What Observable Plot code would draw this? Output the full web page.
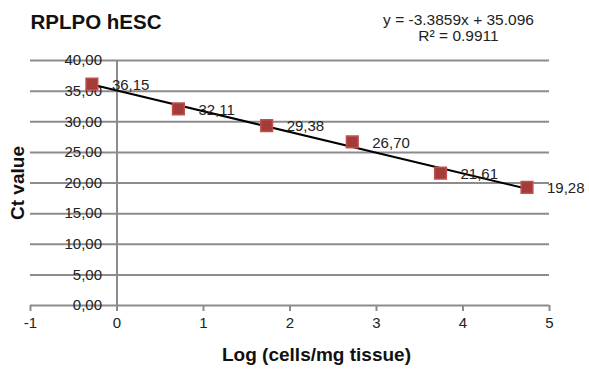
<!DOCTYPE html>
<html>
<head>
<meta charset="utf-8">
<script src="https://cdn.jsdelivr.net/npm/d3@7"></script>
<script src="https://cdn.jsdelivr.net/npm/@observablehq/plot@0.6"></script>
<style>
  html, body { margin: 0; padding: 0; background: #fff; }
  #chart { width: 589px; height: 376px; }
</style>
</head>
<body>
<div id="chart"></div>
<script>
const logCells = [-0.29, 0.71, 1.73, 2.72, 3.74, 4.74];
const ctValues = [36.15, 32.11, 29.38, 26.70, 21.61, 19.28];
const yTicks = [0, 5, 10, 15, 20, 25, 30, 35, 40];
const xTicks = [-1, 0, 1, 2, 3, 4, 5];
const slope = -3.3859;
const intercept = 35.096;
const rSquared = 0.9911;
const titleText = "RPLPO hESC";
const xLabel = "Log (cells/mg tissue)";
const yLabel = "Ct value";

const points = logCells.map((x, i) => ({x, y: ctValues[i]}));
const xMin = d3.min(logCells), xMax = d3.max(logCells);
const trend = [xMin, xMax].map(x => ({x, y: slope * x + intercept}));
const fmt = v => v.toFixed(2).replace(".", ",");
const eq1 = `y = ${slope}x + ${intercept.toFixed(3)}`;
const eq2 = `R² = ${rSquared}`;

const font = "Liberation Sans, Arial, sans-serif";
const grid = "#8c8c8c";

const chart = Plot.plot({
  width: 589,
  height: 376,
  marginLeft: 30,
  marginRight: 40,
  marginTop: 60,
  marginBottom: 71,
  style: {fontFamily: font, background: "#fff", color: "#222"},
  x: {domain: [-1, 5], axis: null},
  y: {domain: [0, 40], axis: null},
  marks: [
    Plot.ruleY(yTicks, {y: d => d, stroke: grid, strokeWidth: 2}),
    Plot.ruleX([0], {x: d => d, stroke: grid, strokeWidth: 2}),
    Plot.ruleX(xTicks, {x: d => d, y1: 0, y2: 0, insetBottom: -6, stroke: grid, strokeWidth: 2}),
    Plot.text(yTicks, {x: 0, y: d => d, text: d => fmt(d), textAnchor: "end", lineAnchor: "middle", dx: -15, fontSize: 15, fill: "#222"}),
    Plot.text(xTicks, {x: d => d, y: 0, text: d => String(d), lineAnchor: "middle", dy: 18, fontSize: 15, fill: "#222"}),
    Plot.line(trend, {x: "x", y: "y", stroke: "#000", strokeWidth: 2}),
    Plot.dot(points, {x: "x", y: "y", symbol: "square", r: 6.6, fill: "#a33b39", stroke: "#c0504d", strokeWidth: 1.5}),
    Plot.text(points, {x: "x", y: "y", text: d => fmt(d.y), textAnchor: "start", lineAnchor: "middle", dx: 20, dy: 1, fontSize: 15, fill: "#222"}),
    Plot.text([titleText], {frameAnchor: "top-left", text: d => d, lineAnchor: "middle", dx: 0, dy: -38, fontSize: 20.5, fontWeight: "bold", fill: "#111", textAnchor: "start"}),
    Plot.text([eq1], {frameAnchor: "top-left", text: d => d, lineAnchor: "middle", textAnchor: "middle", dx: 428, dy: -40.5, fontSize: 15.5, fill: "#222"}),
    Plot.text([eq2], {frameAnchor: "top-left", text: d => d, lineAnchor: "middle", textAnchor: "middle", dx: 428, dy: -24, fontSize: 15.5, fill: "#222"}),
    Plot.text([xLabel], {frameAnchor: "bottom-left", text: d => d, lineAnchor: "middle", textAnchor: "middle", dx: 286, dy: 49, fontSize: 19, fontWeight: "bold", fill: "#111"}),
    Plot.text([yLabel], {frameAnchor: "left", text: d => d, lineAnchor: "middle", textAnchor: "middle", dx: -13, dy: 0, rotate: -90, fontSize: 19, fontWeight: "bold", fill: "#111"})
  ]
});
document.getElementById("chart").appendChild(chart);
</script>
</body>
</html>
